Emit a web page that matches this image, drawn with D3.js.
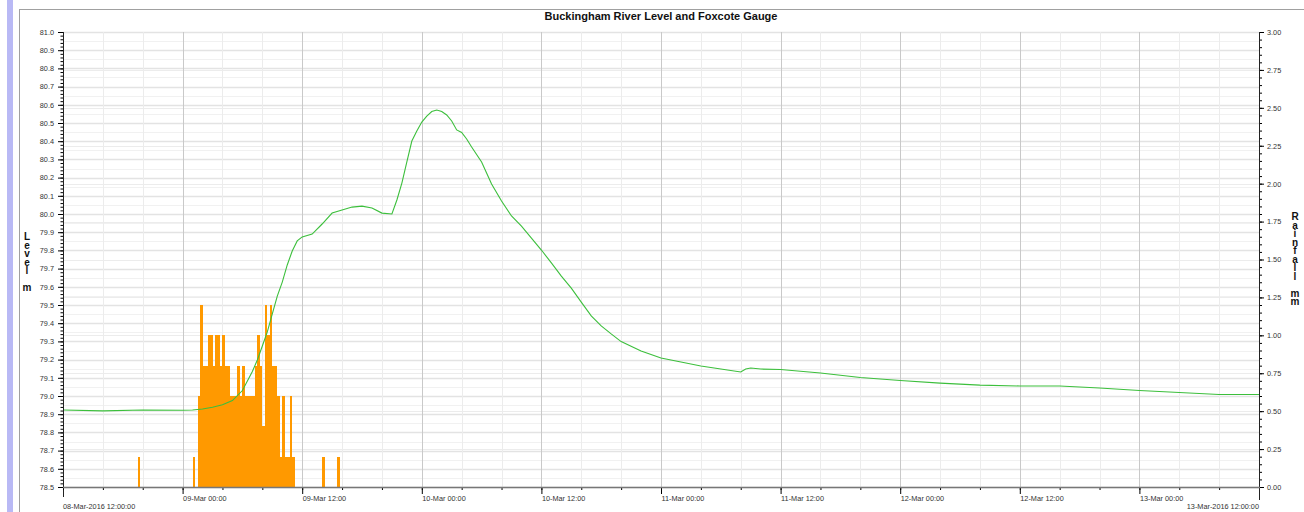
<!DOCTYPE html>
<html>
<head>
<meta charset="utf-8">
<script src="https://cdn.jsdelivr.net/npm/d3@7/dist/d3.min.js"></script>
<style>
  body { margin: 0; background: #fff; }
  svg { display: block; font-family: "Liberation Sans", Arial, sans-serif; }
</style>
</head>
<body>
<svg id="chart" width="1304" height="512"></svg>
<script>
// ---- data ----
const levelTimes = [
  "2016-03-08 12:00","2016-03-08 16:00","2016-03-08 20:00","2016-03-09 00:00","2016-03-09 01:00",
  "2016-03-09 02:00","2016-03-09 03:00","2016-03-09 04:00","2016-03-09 05:00","2016-03-09 06:00",
  "2016-03-09 07:00","2016-03-09 07:30","2016-03-09 08:00","2016-03-09 08:30","2016-03-09 09:00",
  "2016-03-09 09:30","2016-03-09 10:00","2016-03-09 10:30","2016-03-09 11:00","2016-03-09 11:30",
  "2016-03-09 12:00","2016-03-09 13:00","2016-03-09 14:00","2016-03-09 15:00","2016-03-09 16:00",
  "2016-03-09 17:00","2016-03-09 18:00","2016-03-09 19:00","2016-03-09 20:00","2016-03-09 21:00",
  "2016-03-09 21:30","2016-03-09 22:00","2016-03-09 22:30","2016-03-09 23:00","2016-03-09 23:30",
  "2016-03-10 00:00","2016-03-10 00:30","2016-03-10 01:00","2016-03-10 01:30","2016-03-10 02:00",
  "2016-03-10 02:30","2016-03-10 03:00","2016-03-10 03:30","2016-03-10 04:00","2016-03-10 04:30",
  "2016-03-10 05:00","2016-03-10 06:00","2016-03-10 07:00","2016-03-10 08:00","2016-03-10 09:00",
  "2016-03-10 10:00","2016-03-10 11:00","2016-03-10 12:00","2016-03-10 13:00","2016-03-10 14:00",
  "2016-03-10 15:00","2016-03-10 16:00","2016-03-10 17:00","2016-03-10 18:00","2016-03-10 19:00",
  "2016-03-10 20:00","2016-03-10 22:00","2016-03-11 00:00","2016-03-11 02:00","2016-03-11 04:00",
  "2016-03-11 06:00","2016-03-11 08:00","2016-03-11 08:30","2016-03-11 09:00","2016-03-11 10:00",
  "2016-03-11 12:00","2016-03-11 16:00","2016-03-11 20:00","2016-03-12 00:00","2016-03-12 04:00",
  "2016-03-12 08:00","2016-03-12 12:00","2016-03-12 16:00","2016-03-12 20:00","2016-03-13 00:00",
  "2016-03-13 04:00","2016-03-13 08:00","2016-03-13 12:00"
];
const levelValues = [
  78.923,78.918,78.923,78.922,78.923,
  78.929,78.938,78.952,78.975,79.030,
  79.135,79.198,79.275,79.352,79.451,
  79.549,79.626,79.720,79.797,79.852,
  79.874,79.890,79.945,80.005,80.022,
  80.038,80.043,80.033,80.005,80.000,
  80.077,80.170,80.286,80.401,80.456,
  80.505,80.538,80.563,80.571,80.563,
  80.544,80.511,80.462,80.448,80.412,
  80.368,80.286,80.165,80.071,79.989,
  79.933,79.868,79.802,79.731,79.659,
  79.593,79.516,79.440,79.385,79.341,
  79.299,79.247,79.209,79.187,79.165,
  79.148,79.132,79.148,79.154,79.148,
  79.146,79.126,79.102,79.085,79.071,
  79.060,79.055,79.055,79.044,79.030,
  79.019,79.008,79.008
];

// 15 minute rainfall totals (mm), bar drawn from time to time + 15 min
const rainTimes = [
  "2016-03-08 19:30","2016-03-09 01:00",
  "2016-03-09 01:30","2016-03-09 01:45","2016-03-09 02:00","2016-03-09 02:15","2016-03-09 02:30",
  "2016-03-09 02:45","2016-03-09 03:00","2016-03-09 03:15","2016-03-09 03:30","2016-03-09 03:45",
  "2016-03-09 04:00","2016-03-09 04:15","2016-03-09 04:30","2016-03-09 04:45","2016-03-09 05:00",
  "2016-03-09 05:15","2016-03-09 05:30","2016-03-09 05:45","2016-03-09 06:00","2016-03-09 06:15",
  "2016-03-09 06:30","2016-03-09 06:45","2016-03-09 07:00","2016-03-09 07:15","2016-03-09 07:30",
  "2016-03-09 07:45","2016-03-09 08:00","2016-03-09 08:15","2016-03-09 08:30","2016-03-09 08:45",
  "2016-03-09 09:00","2016-03-09 09:15","2016-03-09 09:30","2016-03-09 09:45","2016-03-09 10:00",
  "2016-03-09 10:15","2016-03-09 10:30","2016-03-09 10:45","2016-03-09 11:00",
  "2016-03-09 14:00","2016-03-09 15:30"
];
const rainValues = [
  0.2,0.2,
  0.6,1.2,0.8,0.8,1.0,
  1.0,0.8,1.0,1.0,0.8,
  1.0,0.8,0.8,0.6,0.6,
  0.6,0.8,0.6,0.8,0.6,
  0.6,0.6,0.6,0.8,1.0,
  0.8,0.4,1.2,1.0,1.2,
  0.8,0.8,0.6,0.2,0.6,
  0.2,0.2,0.6,0.2,
  0.2,0.2
];

const levelTicks = d3.range(0, 26).map(i => +(78.5 + i * 0.1).toFixed(1));
const rainTicks = [0, 0.25, 0.5, 0.75, 1.0, 1.25, 1.5, 1.75, 2.0, 2.25, 2.5, 2.75, 3.0];
const xStart = "2016-03-08 12:00";
const xEnd = "2016-03-13 12:00";

const title = "Buckingham River Level and Foxcote Gauge";
const levelLabel = ["L", "e", "v", "e", "l", "", "m"];
const rainLabel = ["R", "a", "i", "n", "f", "a", "l", "l", "", "m", "m"];

// ---- chart ----
const width = 1304, height = 512;
const margin = { top: 32, right: 45, bottom: 25, left: 63 };
const plotRight = width - margin.right;
const plotBottom = height - margin.bottom;

const parse = d3.utcParse("%Y-%m-%d %H:%M");
const svg = d3.select("#chart");

const x = d3.scaleUtc()
  .domain([parse(xStart), parse(xEnd)])
  .range([margin.left, plotRight]);
const yLevel = d3.scaleLinear().domain([78.5, 81]).range([plotBottom, margin.top]);
const yRain = d3.scaleLinear().domain([0, 3]).range([plotBottom, margin.top]);

// frame bits
svg.append("rect").attr("x", 7).attr("y", 0).attr("width", 6).attr("height", height).attr("fill", "#b9b9f5");
svg.append("line").attr("x1", 19.5).attr("x2", 19.5).attr("y1", 9).attr("y2", height).attr("stroke", "#a0a0a0");
svg.append("line").attr("x1", 19.5).attr("x2", width).attr("y1", 9.5).attr("y2", 9.5).attr("stroke", "#a0a0a0");

svg.append("text")
  .attr("x", (margin.left + plotRight) / 2)
  .attr("y", 20)
  .attr("text-anchor", "middle")
  .style("font-size", "11px")
  .style("font-weight", "bold")
  .attr("fill", "#111")
  .text(title);

// grid lines
const grid = svg.append("g").attr("class", "grid");
const minorLevel = d3.range(0, 51).map(i => 78.5 + i * 0.05);
grid.selectAll(".hminor").data(minorLevel).join("line")
  .attr("x1", margin.left).attr("x2", plotRight)
  .attr("y1", d => Math.round(yLevel(d)) + 0.5).attr("y2", d => Math.round(yLevel(d)) + 0.5)
  .attr("stroke", "#f1f1f1");
grid.selectAll(".hrain").data(rainTicks).join("line")
  .attr("x1", margin.left).attr("x2", plotRight)
  .attr("y1", d => Math.round(yRain(d)) + 0.5).attr("y2", d => Math.round(yRain(d)) + 0.5)
  .attr("stroke", "#ececec");
grid.selectAll(".hmajor").data(levelTicks).join("line")
  .attr("x1", margin.left).attr("x2", plotRight)
  .attr("y1", d => Math.round(yLevel(d)) + 0.5).attr("y2", d => Math.round(yLevel(d)) + 0.5)
  .attr("stroke", "#e3e3e3").attr("stroke-width", 1.5);

const minorTimes = d3.utcHour.every(4).range(x.domain()[0], x.domain()[1]);
const majorTimes = d3.utcHour.every(12).range(x.domain()[0], +x.domain()[1] + 1);
grid.selectAll(".vminor").data(minorTimes).join("line")
  .attr("x1", d => Math.round(x(d)) + 0.5).attr("x2", d => Math.round(x(d)) + 0.5)
  .attr("y1", margin.top).attr("y2", plotBottom)
  .attr("stroke", "#ececec");
grid.selectAll(".vmajor").data(majorTimes.slice(1, -1)).join("line")
  .attr("x1", d => Math.round(x(d)) + 0.5).attr("x2", d => Math.round(x(d)) + 0.5)
  .attr("y1", margin.top).attr("y2", plotBottom)
  .attr("stroke", "#c9c9c9");

// rainfall bars
svg.append("g")
  .attr("fill", "#ff9900")
  .selectAll("rect")
  .data(rainTimes.map((t, i) => ({ t: parse(t), v: rainValues[i] })))
  .join("rect")
  .attr("x", d => x(d.t))
  .attr("width", d => x(d3.utcMinute.offset(d.t, 15)) - x(d.t))
  .attr("y", d => yRain(d.v))
  .attr("height", d => yRain(0) - yRain(d.v))
  .attr("shape-rendering", "crispEdges");

// river level line
const levelData = levelTimes.map((t, i) => ({ t: parse(t), v: levelValues[i] }));
svg.append("path")
  .datum(levelData)
  .attr("fill", "none")
  .attr("stroke", "#3cbf3c")
  .attr("stroke-width", 1.1)
  .attr("d", d3.line().x(d => x(d.t)).y(d => yLevel(d.v)));

// left axis
const tickFont = "7.3px";
svg.append("g")
  .attr("transform", `translate(${margin.left},0)`)
  .call(d3.axisLeft(yLevel).tickValues(d3.range(0, 126).map(i => 78.5 + i * 0.02)).tickSize(2.5).tickFormat(""))
  .call(g => g.select(".domain").remove());
svg.append("g")
  .attr("transform", `translate(${margin.left},0)`)
  .call(d3.axisLeft(yLevel).tickValues(levelTicks).tickSize(5).tickPadding(4).tickFormat(d3.format(".1f")))
  .call(g => g.select(".domain").remove())
  .call(g => g.selectAll("text").style("font-size", tickFont).attr("fill", "#333"));
svg.append("line")
  .attr("x1", margin.left + 0.5).attr("x2", margin.left + 0.5)
  .attr("y1", margin.top).attr("y2", plotBottom + 10)
  .attr("stroke", "#222");

// right axis
svg.append("g")
  .attr("transform", `translate(${plotRight},0)`)
  .call(d3.axisRight(yRain).tickValues(d3.range(0, 61).map(i => i * 0.05)).tickSize(3).tickFormat(""))
  .call(g => g.select(".domain").remove());
svg.append("g")
  .attr("transform", `translate(${plotRight},0)`)
  .call(d3.axisRight(yRain).tickValues(rainTicks).tickSize(5).tickPadding(3).tickFormat(d3.format(".2f")))
  .call(g => g.select(".domain").remove())
  .call(g => g.selectAll("text").style("font-size", tickFont).attr("fill", "#333"));
svg.append("line")
  .attr("x1", plotRight + 0.5).attr("x2", plotRight + 0.5)
  .attr("y1", margin.top).attr("y2", plotBottom + 13)
  .attr("stroke", "#222");

// bottom axis
const xAxis = svg.append("g").attr("transform", `translate(0,${plotBottom})`);
xAxis.call(d3.axisBottom(x).tickValues(minorTimes).tickSize(3).tickFormat(""))
  .call(g => g.select(".domain").remove());
const fmtTick = d3.utcFormat("%d-%b %H:%M");
svg.append("g")
  .attr("transform", `translate(0,${plotBottom})`)
  .call(d3.axisBottom(x).tickValues(majorTimes.slice(1, -1)).tickSize(7).tickPadding(1.5).tickFormat(fmtTick))
  .call(g => g.select(".domain").remove())
  .call(g => g.selectAll("text").style("font-size", tickFont).attr("fill", "#333").attr("text-anchor", "start").attr("x", 0));
svg.append("line")
  .attr("x1", margin.left).attr("x2", plotRight + 1)
  .attr("y1", plotBottom + 0.5).attr("y2", plotBottom + 0.5)
  .attr("stroke", "#777").attr("stroke-width", 1.5);

const fmtEnd = d3.utcFormat("%d-%b-%Y %H:%M:%S");
svg.append("text")
  .attr("x", margin.left).attr("y", plotBottom + 21.5)
  .style("font-size", tickFont).attr("fill", "#333")
  .text(fmtEnd(x.domain()[0]));
svg.append("text")
  .attr("x", plotRight).attr("y", plotBottom + 21.5)
  .attr("text-anchor", "end")
  .style("font-size", tickFont).attr("fill", "#333")
  .text(fmtEnd(x.domain()[1]));

// stacked axis titles
svg.append("g")
  .selectAll("text")
  .data(levelLabel)
  .join("text")
  .attr("x", 27).attr("y", (d, i) => 240 + i * 8.5)
  .attr("text-anchor", "middle")
  .style("font-size", "10px").style("font-weight", "bold").attr("fill", "#111")
  .text(d => d);
svg.append("g")
  .selectAll("text")
  .data(rainLabel)
  .join("text")
  .attr("x", 1295).attr("y", (d, i) => 220 + i * 8.5)
  .attr("text-anchor", "middle")
  .style("font-size", "10px").style("font-weight", "bold").attr("fill", "#111")
  .text(d => d);
</script>
</body>
</html>
